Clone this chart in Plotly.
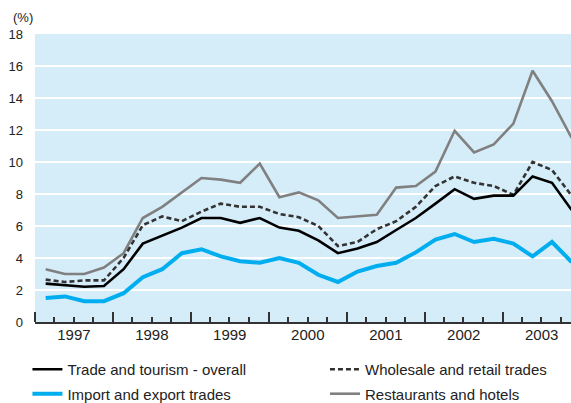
import pandas as pd
import plotly.graph_objects as go

# Quarterly periods, 1997Q1 - 2003Q4
quarters = [f"{y}Q{q}" for y in range(1997, 2004) for q in range(1, 5)]

overall = [2.4, 2.3, 2.2, 2.25, 3.3, 4.9, 5.4, 5.9, 6.5, 6.5, 6.2, 6.5, 5.9, 5.7,
           5.1, 4.3, 4.6, 5.0, 5.75, 6.5, 7.4, 8.3, 7.7, 7.9, 7.9, 9.1, 8.7, 7.0]
wholesale = [2.65, 2.5, 2.6, 2.6, 4.0, 6.05, 6.6, 6.3, 6.9, 7.4, 7.2, 7.2, 6.75, 6.55,
             6.0, 4.75, 5.0, 5.8, 6.3, 7.2, 8.5, 9.1, 8.7, 8.5, 7.95, 10.0, 9.5, 7.9]
import_export = [1.5, 1.6, 1.3, 1.3, 1.8, 2.8, 3.3, 4.3, 4.55, 4.1, 3.8, 3.7, 4.0, 3.7,
                 2.95, 2.5, 3.15, 3.5, 3.7, 4.35, 5.15, 5.5, 5.0, 5.2, 4.9, 4.1, 5.0, 3.75]
restaurants = [3.3, 3.0, 3.0, 3.4, 4.3, 6.5, 7.2, 8.1, 9.0, 8.9, 8.7, 9.9, 7.8, 8.1,
               7.6, 6.5, 6.6, 6.7, 8.4, 8.5, 9.4, 11.95, 10.6, 11.1, 12.4, 15.7, 13.8, 11.5]

names = ["Trade and tourism - overall", "Wholesale and retail trades",
         "Import and export trades", "Restaurants and hotels"]

x = [pd.Period(q, freq="Q").start_time + pd.Timedelta(days=50) for q in quarters]

TXT = "#222222"
fig = go.Figure()
fig.add_trace(go.Scatter(x=x, y=restaurants, name=names[3], mode="lines",
                         line=dict(color="#808080", width=2.6),
                         legend="legend2", legendgroup="d", legendrank=2))
fig.add_trace(go.Scatter(x=x, y=import_export, name=names[2], mode="lines",
                         line=dict(color="#00aeef", width=4),
                         legend="legend", legendgroup="c", legendrank=2))
fig.add_trace(go.Scatter(x=x, y=wholesale, name=names[1], mode="lines",
                         line=dict(color="#333333", width=2.6, dash="5px,3px"),
                         legend="legend2", legendgroup="b", legendrank=1))
fig.add_trace(go.Scatter(x=x, y=overall, name=names[0], mode="lines",
                         line=dict(color="#000000", width=2.6),
                         legend="legend", legendgroup="a", legendrank=1))

leg_common = dict(orientation="v", yanchor="top", xanchor="left",
                  traceorder="grouped", tracegroupgap=2,
                  font=dict(size=15, color=TXT), bgcolor="rgba(0,0,0,0)")

fig.update_layout(
    width=571, height=403,
    margin=dict(l=35, r=0, t=34, b=81, autoexpand=False),
    paper_bgcolor="white", plot_bgcolor="#d5ecf9",
    font=dict(family="Liberation Sans, Arial, sans-serif", color=TXT),
    showlegend=True,
    legend=dict(x=-0.0141, y=-0.1075, **leg_common),
    legend2=dict(x=0.541, y=-0.1075, **leg_common),
    xaxis=dict(type="date", range=["1997-01-01", "2003-11-17"], automargin=False,
               dtick="M12", tick0="1997-01-01", tickformat="%Y", ticklabelmode="period",
               ticks="inside", ticklen=10, tickwidth=1.5, tickcolor="#333333",
               showline=True, linecolor="#333333", linewidth=1.5, showgrid=False,
               zeroline=False, ticklabelstandoff=-2, tickfont=dict(size=15, color=TXT),
               minor=dict(dtick="M3", tick0="1997-01-01", ticks="inside", ticklen=5,
                          tickwidth=1.5, tickcolor="#333333", showgrid=False)),
    yaxis=dict(range=[0, 18], dtick=2, showgrid=True, gridcolor="white", gridwidth=2,
               zeroline=False, showline=False, ticks="", ticklabelstandoff=11,
               automargin=False, tickfont=dict(size=13, color=TXT)),
    annotations=[dict(text="(%)", xref="paper", yref="paper", x=-0.0224, y=1.024,
                      xanchor="center", yanchor="bottom", showarrow=False,
                      font=dict(size=13, color=TXT))],
)

fig.write_html("out.html", config={"displayModeBar": False},
               post_script="document.body.style.margin='0';")
